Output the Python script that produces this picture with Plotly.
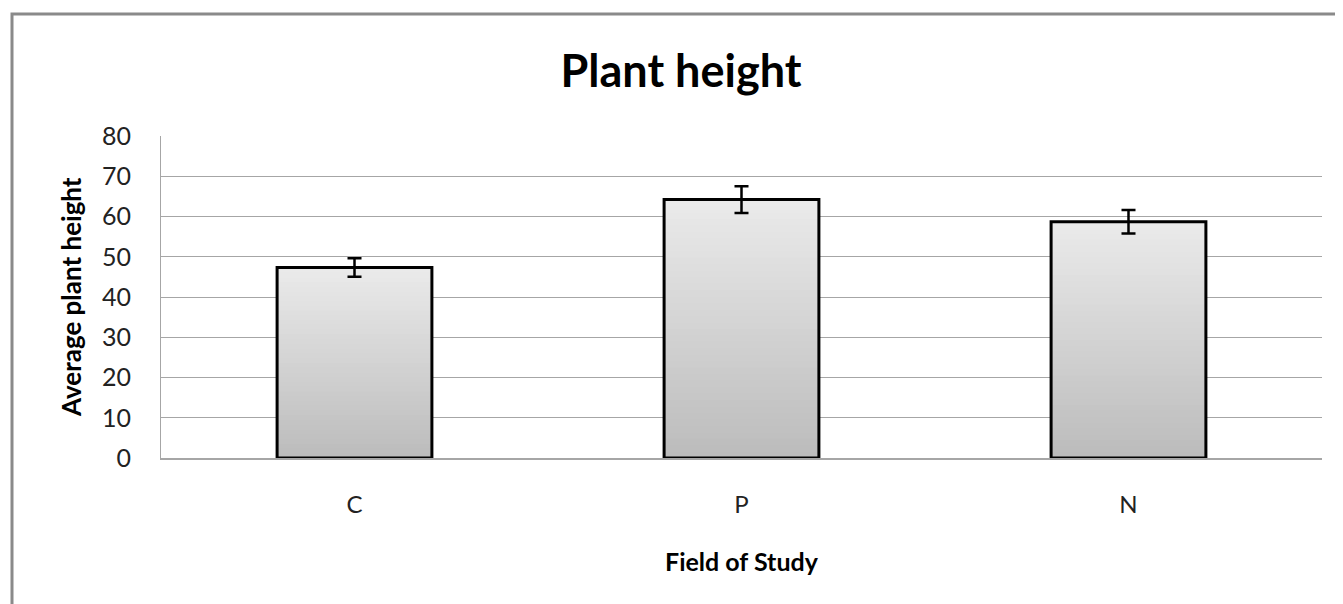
import plotly.graph_objects as go

categories = ["C", "P", "N"]
values = [47.3, 64.2, 58.7]
errors = [2.3, 3.3, 2.9]
y_ticks = [0, 10, 20, 30, 40, 50, 60, 70, 80]

N_SLICES = 40
top_rgb = (234, 234, 234)
bot_rgb = (188, 188, 188)

# page has an 8px body margin; figure coordinates are page - 8
W, H = 1335, 596
ml, mr, mt, mb = 153, 21, 128, 146
pw = W - ml - mr
ph = H - mt - mb

def px_x(x):
    return (x - 8 - ml) / pw

def px_y(y):
    return (H - mb - (y - 8)) / ph

fig = go.Figure()
for i in range(N_SLICES):
    t = i / (N_SLICES - 1)
    c = tuple(int(round(bot_rgb[k] + (top_rgb[k] - bot_rgb[k]) * t)) for k in range(3))
    fig.add_trace(go.Bar(
        x=categories,
        y=[v * (N_SLICES - i) / N_SLICES for v in values],
        base=[v * i / N_SLICES for v in values],
        marker=dict(color=f"rgb{c}", line=dict(width=0)),
        width=0.4, showlegend=False, hoverinfo="skip",
    ))

fig.add_trace(go.Bar(
    x=categories, y=values, width=0.4,
    marker=dict(color="rgba(0,0,0,0)", line=dict(color="black", width=3)),
    error_y=dict(type="data", array=errors, visible=True, color="black", thickness=2.5, width=7),
    showlegend=False,
))

fig.add_shape(type="rect", xref="paper", yref="paper",
              x0=px_x(12), x1=px_x(1360),
              y0=px_y(640), y1=px_y(14),
              line=dict(color="#8a8a8a", width=3), fillcolor="rgba(0,0,0,0)", layer="below")

fig.add_annotation(text="<b>Average plant height</b>", xref="paper", yref="paper",
                   x=px_x(71), y=px_y(297), xanchor="center", yanchor="middle",
                   textangle=-90, showarrow=False, font=dict(size=26, color="black"))
fig.add_annotation(text="<b>Field of Study</b>", xref="paper", yref="paper",
                   x=px_x(742), y=px_y(561), xanchor="center", yanchor="middle",
                   showarrow=False, font=dict(size=25, color="black"))

fig.update_layout(
    width=W, height=H,
    margin=dict(l=ml, r=mr, t=mt, b=mb),
    barmode="overlay",
    plot_bgcolor="white", paper_bgcolor="white",
    font=dict(family="Lato, Open Sans, sans-serif", color="black"),
    title=dict(text="<b>Plant height</b>", x=(681 - 8) / W, xanchor="center",
               y=1 - (71 - 8) / H, yanchor="middle", font=dict(size=45, family="Lato")),
)
fig.update_yaxes(
    range=[0, 80], tickvals=y_ticks, showgrid=True, gridcolor="#a6a6a6", gridwidth=1,
    showline=True, linecolor="#a6a6a6", linewidth=1, ticks="", zeroline=False,
    tickfont=dict(size=25, color="#222"), ticklabelstandoff=24,
)
fig.update_xaxes(
    showline=True, linecolor="#a6a6a6", linewidth=1.5, ticks="",
    tickfont=dict(size=24, color="#222"), ticklabelstandoff=24,
)

fig.write_html("out.html")
